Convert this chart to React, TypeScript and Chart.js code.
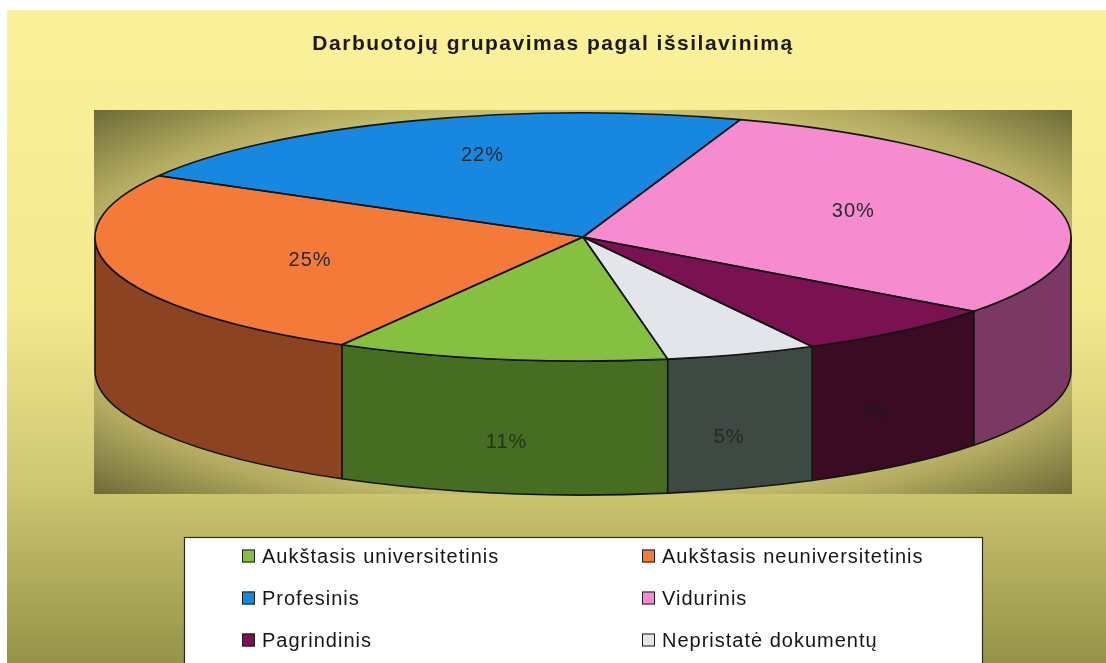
import React, { useEffect, useRef } from "react";
import { Chart, registerables } from "chart.js";

Chart.register(...registerables);

// ---------- data ----------
const TITLE = "Darbuotojų grupavimas pagal išsilavinimą";
const categories = [
  "Aukštasis universitetinis",
  "Aukštasis neuniversitetinis",
  "Profesinis",
  "Vidurinis",
  "Pagrindinis",
  "Nepristatė dokumentų",
];
const shares = [11, 25, 22, 30, 7, 5];
const topColors = ["#86c040", "#f47a3a", "#1787e0", "#f68bcf", "#7a1252", "#e2e5ea"];
const sideColors = ["#466d22", "#8c4322", "#0d4f86", "#7b3862", "#3a0b22", "#3f4944"];

// ---------- layout / style ----------
const W = 1106;
const H = 663;
const PIE = { cx: 583, cy: 237, rx: 488, ry: 124, depth: 134 };
const PLOT = { x: 94, y: 110, w: 978, h: 384 };
const LEGEND = { x: 184, y: 537, w: 798, h: 140, col: [242, 642], rows: [556, 598, 640], box: 13, gap: 7 };
const FONT = "'Liberation Sans', Arial, sans-serif";

const pie3d = {
  id: "pie3d",
  beforeDraw(chart: any) {
    const ctx: any = chart.ctx;
    ctx.save();
    ctx.fillStyle = "#ffffff";
    ctx.fillRect(0, 0, W, H);
    // page background
    const g = ctx.createLinearGradient(0, 10, 0, H);
    g.addColorStop(0, "#faf19a");
    g.addColorStop(0.45, "#f3e98f");
    g.addColorStop(0.72, "#cfc873");
    g.addColorStop(1, "#949347");
    ctx.fillStyle = g;
    ctx.fillRect(7, 10, W - 7, H - 10);
    // plot area
    ctx.save();
    const pcx = PLOT.x + PLOT.w / 2;
    const pcy = PLOT.y + PLOT.h / 2;
    ctx.translate(pcx, pcy);
    ctx.scale(1, PLOT.h / PLOT.w);
    const R = Math.hypot(PLOT.w / 2, PLOT.w / 2);
    const rg = ctx.createRadialGradient(0, 0, 0, 0, 0, R);
    rg.addColorStop(0, "#f4ec94");
    rg.addColorStop(0.55, "#ebe28a");
    rg.addColorStop(0.8, "#b0a95f");
    rg.addColorStop(1, "#6e6a36");
    ctx.fillStyle = rg;
    ctx.fillRect(-PLOT.w / 2, -PLOT.w / 2, PLOT.w, PLOT.w);
    ctx.restore();
    ctx.restore();
    // scanned title looks letter-spaced
    ctx.letterSpacing = "1.5px";
  },
  beforeDatasetsDraw(chart: any) {
    const ctx: any = chart.ctx;
    ctx.letterSpacing = "0px";
    const arcs = chart.getDatasetMeta(0).data;
    const { cx, cy, rx, ry, depth } = PIE;
    const TAU = Math.PI * 2;
    ctx.save();
    ctx.lineWidth = 1.6;
    ctx.strokeStyle = "#141414";
    ctx.lineJoin = "round";
    arcs.forEach((arc: any, i: number) => {
      const s = ((arc.startAngle % TAU) + TAU) % TAU;
      const e = s + (arc.endAngle - arc.startAngle);
      for (const [lo, hi] of [[0, Math.PI], [TAU, TAU + Math.PI]]) {
        const a = Math.max(s, lo);
        const b = Math.min(e, hi);
        if (b > a) {
          ctx.beginPath();
          ctx.ellipse(cx, cy, rx, ry, 0, a, b);
          ctx.lineTo(cx + rx * Math.cos(b), cy + depth + ry * Math.sin(b));
          ctx.ellipse(cx, cy + depth, rx, ry, 0, b, a, true);
          ctx.closePath();
          ctx.fillStyle = sideColors[i];
          ctx.fill();
          ctx.stroke();
        }
      }
    });
    ctx.restore();
    // squash the library-drawn circle into the top ellipse
    const a0 = arcs[0];
    ctx.save();
    ctx.translate(cx, cy);
    ctx.scale(1, ry / rx);
    ctx.translate(-a0.x, -a0.y);
  },
  afterDatasetsDraw(chart: any) {
    const ctx: any = chart.ctx;
    ctx.restore();
    const arcs = chart.getDatasetMeta(0).data;
    const values = chart.data.datasets[0].data;
    const { cx, cy, rx, ry, depth } = PIE;
    ctx.save();
    ctx.lineWidth = 1.6;
    ctx.strokeStyle = "#141414";
    ctx.lineJoin = "round";
    arcs.forEach((arc: any) => {
      const s = arc.startAngle;
      const e = arc.endAngle;
      ctx.beginPath();
      ctx.moveTo(cx, cy);
      ctx.lineTo(cx + rx * Math.cos(s), cy + ry * Math.sin(s));
      ctx.ellipse(cx, cy, rx, ry, 0, s, e);
      ctx.closePath();
      ctx.stroke();
    });
    // percentage labels
    ctx.font = `20px ${FONT}`;
    ctx.letterSpacing = "1px";
    ctx.textAlign = "center";
    ctx.textBaseline = "middle";
    arcs.forEach((arc: any, i: number) => {
      const mid = (arc.startAngle + arc.endAngle) / 2;
      const c = Math.cos(mid);
      const sn = Math.sin(mid);
      let x: number, y: number;
      if (sn > 0.7) {
        x = cx + rx * c * 0.92;
        y = cy + ry * sn + depth * 0.62;
        ctx.fillStyle = "rgba(22,28,22,0.7)";
      } else {
        x = cx + rx * c * 0.58;
        y = cy + ry * sn * 0.7;
        ctx.fillStyle = "#2a2a33";
      }
      ctx.fillText(`${values[i]}%`, x, y);
    });
    ctx.restore();
  },
  afterDraw(chart: any) {
    const ctx: any = chart.ctx;
    const labels: string[] = chart.data.labels;
    const colors: string[] = chart.data.datasets[0].backgroundColor;
    ctx.save();
    ctx.fillStyle = "#ffffff";
    ctx.fillRect(LEGEND.x, LEGEND.y, LEGEND.w, LEGEND.h);
    ctx.strokeStyle = "#2a2a2a";
    ctx.lineWidth = 1.2;
    ctx.strokeRect(LEGEND.x + 0.5, LEGEND.y + 0.5, LEGEND.w, LEGEND.h);
    ctx.font = `20px ${FONT}`;
    ctx.letterSpacing = "1px";
    ctx.textBaseline = "middle";
    ctx.textAlign = "left";
    labels.forEach((lab, i) => {
      const x = LEGEND.col[i % 2];
      const y = LEGEND.rows[Math.floor(i / 2)];
      const b = LEGEND.box;
      ctx.fillStyle = colors[i];
      ctx.fillRect(x, y - b / 2, b, b);
      ctx.strokeStyle = "#1a1a1a";
      ctx.lineWidth = 1;
      ctx.strokeRect(x + 0.5, y - b / 2 + 0.5, b - 1, b - 1);
      ctx.fillStyle = "#151515";
      ctx.fillText(lab, x + b + LEGEND.gap, y + 1);
    });
    ctx.restore();
  },
};

export default function App() {
  const ref = useRef<HTMLCanvasElement | null>(null);
  useEffect(() => {
    document.body.style.margin = "0";
    const canvas = ref.current;
    if (!canvas) return;
    const chart = new Chart(canvas, {
      type: "doughnut",
      data: {
        labels: categories,
        datasets: [
          {
            data: shares,
            backgroundColor: topColors,
            borderWidth: 0,
            clip: false,
          } as any,
        ],
      },
      options: {
        responsive: false,
        animation: false,
        events: [],
        rotation: 170,
        cutout: 0,
        radius: PIE.rx,
        layout: { padding: 0 },
        plugins: {
          legend: { display: false },
          tooltip: { enabled: false },
          title: {
            display: true,
            text: TITLE,
            color: "#1a1a1a",
            font: { family: FONT, size: 21, weight: "bold", lineHeight: 1.2 },
            padding: { top: 32, bottom: 10 },
          },
        },
      } as any,
      plugins: [pie3d],
    });
    return () => chart.destroy();
  }, []);
  return (
    <canvas ref={ref} width={W} height={H} style={{ display: "block", width: W, height: H }} />
  );
}
